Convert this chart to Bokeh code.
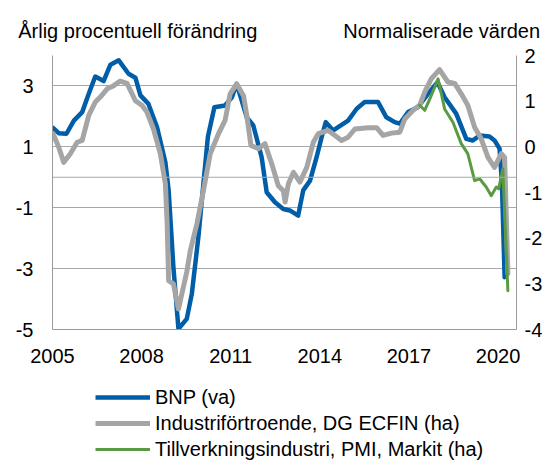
from bokeh.plotting import figure
from bokeh.layouts import column
from bokeh.models import Range1d, LinearAxis, FixedTicker, Legend, LegendItem, Span
from bokeh.embed import file_html
from bokeh.resources import INLINE

# BNP, annual % change (left axis)
bnp_year = [2005.02, 2005.21, 2005.47, 2005.72, 2006.00, 2006.22, 2006.44, 2006.72, 2006.95, 2007.23,
            2007.56, 2007.79, 2007.96, 2008.23, 2008.52, 2008.80, 2008.91, 2009.07, 2009.24, 2009.52,
            2009.69, 2009.91, 2010.08, 2010.23, 2010.45, 2010.81, 2011.04, 2011.20, 2011.37, 2011.54,
            2011.76, 2012.04, 2012.21, 2012.49, 2012.77, 2012.99, 2013.27, 2013.44, 2013.67, 2013.89,
            2014.06, 2014.20, 2014.45, 2014.95, 2015.24, 2015.51, 2015.96, 2016.24, 2016.52, 2016.69,
            2016.97, 2017.30, 2017.64, 2017.96, 2018.20, 2018.59, 2018.93, 2019.15, 2019.38, 2019.71,
            2019.88, 2020.05, 2020.13, 2020.22]
bnp_value = [1.62, 1.45, 1.43, 1.86, 2.14, 2.74, 3.31, 3.16, 3.70, 3.84,
             3.40, 3.27, 2.69, 2.41, 1.64, 0.49, -0.43, -2.95, -4.98, -4.65,
             -3.83, -1.97, -0.21, 1.32, 2.30, 2.36, 2.63, 3.07, 2.52, 1.97,
             1.70, 0.66, -0.49, -0.82, -1.04, -1.09, -1.26, -0.43, -0.11, 0.66,
             1.32, 1.81, 1.54, 1.86, 2.25, 2.47, 2.47, 1.97, 1.81, 1.76,
             2.14, 2.30, 2.74, 3.12, 2.63, 2.09, 1.26, 1.21, 1.37, 1.34,
             1.21, 0.94, -0.21, -3.28]

# Industrial confidence, DG ECFIN, normalised (right axis)
ind_year = [2005.02, 2005.21, 2005.38, 2005.60, 2005.83, 2006.00, 2006.22, 2006.44, 2006.61, 2006.84,
            2007.06, 2007.28, 2007.51, 2007.79, 2008.01, 2008.18, 2008.40, 2008.63, 2008.80, 2008.86,
            2008.91, 2009.07, 2009.24, 2009.52, 2009.64, 2009.86, 2010.08, 2010.31, 2010.59, 2010.81,
            2010.98, 2011.20, 2011.43, 2011.54, 2011.68, 2011.93, 2012.15, 2012.38, 2012.60, 2012.77,
            2012.83, 2012.94, 2013.11, 2013.33, 2013.56, 2013.78, 2013.95, 2014.28, 2014.51, 2014.73,
            2014.95, 2015.18, 2015.63, 2015.91, 2016.13, 2016.41, 2016.69, 2016.86, 2017.14, 2017.36,
            2017.53, 2017.75, 2018.03, 2018.31, 2018.54, 2018.76, 2018.98, 2019.21, 2019.43, 2019.66,
            2019.88, 2020.11, 2020.22, 2020.33]
ind_value = [0.29, -0.01, -0.34, -0.15, 0.10, 0.14, 0.69, 0.98, 1.09, 1.27,
             1.34, 1.44, 1.39, 1.01, 0.91, 0.76, 0.39, -0.15, -0.81, -1.68,
             -2.93, -3.00, -3.55, -2.74, -2.27, -1.69, -0.96, -0.15, 0.29, 0.58,
             1.16, 1.38, 1.12, 0.69, 0.03, -0.04, 0.07, -0.37, -0.85, -0.96,
             -1.21, -0.81, -0.56, -0.77, -0.45, 0.10, 0.29, 0.36, 0.25, 0.14,
             0.21, 0.39, 0.42, 0.42, 0.25, 0.30, 0.32, 0.61, 0.80, 0.91,
             1.20, 1.49, 1.69, 1.42, 1.39, 1.16, 0.91, 0.43, 0.18, -0.23,
             -0.45, -0.15, -0.23, -2.78]

# Manufacturing PMI, Markit, normalised (right axis)
pmi_year = [2017.36, 2017.53, 2017.75, 2017.98, 2018.20, 2018.48, 2018.76, 2018.98, 2019.21, 2019.38,
            2019.60, 2019.77, 2019.94, 2020.02, 2020.16, 2020.33]
pmi_value = [0.91, 0.80, 1.12, 1.49, 0.83, 0.54, 0.07, -0.15, -0.74, -0.70,
             -0.88, -1.07, -0.88, -0.92, -0.48, -3.15]

x_ticks = [2005, 2008, 2011, 2014, 2017, 2020]
left_ticks = [-5, -3, -1, 1, 3]
right_ticks = [-4, -3, -2, -1, 0, 1, 2]

title_left = "Årlig procentuell förändring"
title_right = "Normaliserade värden"
series_names = ["BNP (va)", "Industriförtroende, DG ECFIN (ha)", "Tillverkningsindustri, PMI, Markit (ha)"]

FONT = "Liberation Sans"
BLUE = "#005EA8"
GRAY = "#A5A5A5"
GREEN = "#5B9A44"
GRID = "#A8A8A8"
AXIS = "#9A9A9A"

W = 545
H_MAIN = 371
H_LEG = 462 - H_MAIN

p = figure(width=W, height=H_MAIN, output_backend="svg", toolbar_location=None,
           x_range=Range1d(2005, 2020.62), y_range=Range1d(-5, 4),
           min_border_left=52, min_border_top=55, min_border_right=28, min_border_bottom=42)
p.extra_y_ranges = {"right": Range1d(-4, 2)}
p.outline_line_color = None
p.background_fill_color = "white"

xa = p.xaxis[0]
xa.ticker = FixedTicker(ticks=x_ticks)
ya = p.yaxis[0]
ya.ticker = FixedTicker(ticks=left_ticks)
ya.major_label_overrides = {t: str(t) for t in left_ticks}
ra = LinearAxis(y_range_name="right", ticker=FixedTicker(ticks=right_ticks))
ra.major_label_overrides = {t: str(t) for t in right_ticks}
p.add_layout(ra, "right")

# the two panel titles, set as labels of an axis above the plot
title_pos = [2007.87, 2018.1]
ta = LinearAxis(ticker=FixedTicker(ticks=title_pos),
                major_label_overrides={title_pos[0]: title_left, title_pos[1]: title_right})
p.add_layout(ta, "above")

for ax in (xa, ya, ra, ta):
    ax.axis_line_color = AXIS
    ax.axis_line_width = 1
    ax.major_tick_line_color = None
    ax.minor_tick_line_color = None
    ax.major_tick_out = 0
    ax.major_tick_in = 0
    ax.minor_tick_out = 0
    ax.major_label_text_font = FONT
    ax.major_label_text_font_size = "20px"
    ax.major_label_text_color = "black"
ta.axis_line_color = None
ta.major_label_standoff = 14
xa.major_label_standoff = 19
ya.major_label_standoff = 19
ra.major_label_standoff = 8

p.xgrid.visible = False
p.ygrid.grid_line_color = GRID
p.ygrid.grid_line_width = 1
p.add_layout(Span(location=0, dimension="width", line_color=GRID, line_width=1))

r1 = p.line(bnp_year, bnp_value, line_color=BLUE, line_width=4.5, line_join="round", line_cap="round")
r2 = p.line(ind_year, ind_value, y_range_name="right", line_color=GRAY, line_width=5,
            line_join="round", line_cap="round")
r3 = p.line(pmi_year, pmi_value, y_range_name="right", line_color=GREEN, line_width=3,
            line_join="round", line_cap="round")

# legend, in a strip of its own under the chart (its series lie outside this strip's ranges)
lg = figure(width=W, height=H_LEG, output_backend="svg", toolbar_location=None,
            x_range=Range1d(0, 1), y_range=Range1d(0, 1),
            min_border_left=0, min_border_right=0, min_border_top=0, min_border_bottom=0)
lg.axis.visible = False
lg.grid.visible = False
lg.outline_line_color = None
k1 = lg.line(bnp_year, bnp_value, line_color=BLUE, line_width=4.5)
k2 = lg.line(ind_year, ind_value, line_color=GRAY, line_width=5)
k3 = lg.line(pmi_year, pmi_value, line_color=GREEN, line_width=3)
legend = Legend(items=[LegendItem(label=series_names[0], renderers=[k1]),
                       LegendItem(label=series_names[1], renderers=[k2]),
                       LegendItem(label=series_names[2], renderers=[k3])],
                location=(43, 0), orientation="vertical", glyph_width=55, glyph_height=20,
                label_height=26, label_standoff=5, spacing=0, padding=0, margin=0,
                border_line_color=None, background_fill_alpha=0,
                label_text_font=FONT, label_text_font_size="20px", label_text_color="black")
lg.add_layout(legend)

layout = column(p, lg, spacing=0)
open("out.html", "w").write(file_html(layout, INLINE))
